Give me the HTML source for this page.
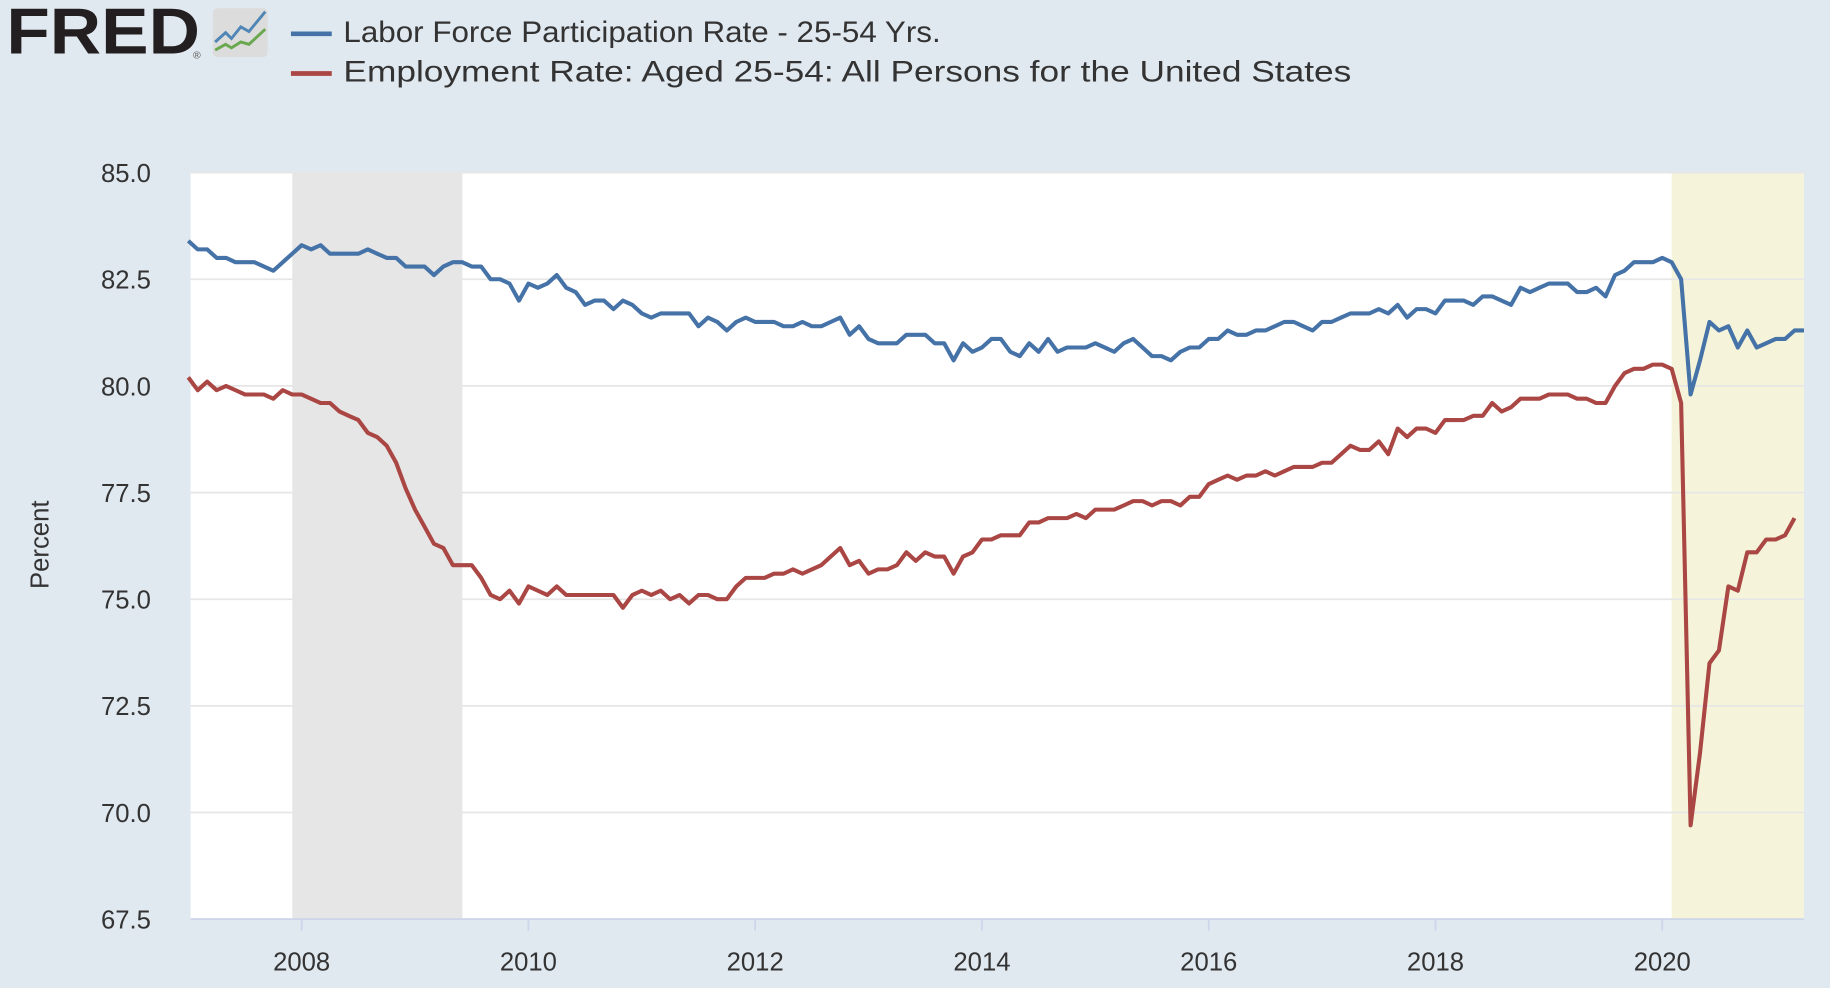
<!DOCTYPE html>
<html><head><meta charset="utf-8">
<style>
html,body{margin:0;padding:0;background:#e1e9f0;}
svg{display:block;}
</style></head>
<body>
<svg id="chart" width="1830" height="988" viewBox="0 0 1568 847" xmlns="http://www.w3.org/2000/svg" style="font-family:'Liberation Sans',sans-serif">
<rect x="0" y="0" width="1568" height="847" fill="#e1e9f0"/>
<g>
<text x="5" y="46" font-size="56" font-weight="bold" fill="#231f20" textLength="166" lengthAdjust="spacingAndGlyphs">FRED</text>
<text x="165" y="50" font-size="9" fill="#555">®</text>
<rect x="182" y="7" width="47" height="42" rx="4" fill="#dcdcdc"/>
<polyline points="184,36 193,28 198,33 206,23 213,27 227,10" fill="none" stroke="#4f86b5" stroke-width="2.5"/>
<polyline points="184,43 193,38 198,41 206,36 213,38 227,25" fill="none" stroke="#6aa84f" stroke-width="2.5"/>
</g>
<g>
<line x1="249" y1="29" x2="284" y2="29" stroke="#4572a7" stroke-width="4"/>
<text x="294" y="36" font-size="25" fill="#333" textLength="512" lengthAdjust="spacingAndGlyphs">Labor Force Participation Rate - 25-54 Yrs.</text>
<line x1="249" y1="63" x2="284" y2="63" stroke="#aa4643" stroke-width="4"/>
<text x="294" y="70" font-size="25" fill="#333" textLength="864" lengthAdjust="spacingAndGlyphs">Employment Rate: Aged 25-54: All Persons for the United States</text>
</g>
<rect x="163" y="148" width="1383" height="640" fill="#fff"/>
<g id="shades"></g>
<g id="grid"></g>
<g id="series"></g>
<g id="axes"></g>
<text transform="translate(41,467) rotate(-90)" text-anchor="middle" font-size="22" fill="#333">Percent</text>
</svg>
<script>
const lfpr=[
83.4,83.2,83.2,83.0,83.0,82.9,82.9,82.9,82.8,82.7,82.9,83.1,
83.3,83.2,83.3,83.1,83.1,83.1,83.1,83.2,83.1,83.0,83.0,82.8,
82.8,82.8,82.6,82.8,82.9,82.9,82.8,82.8,82.5,82.5,82.4,82.0,
82.4,82.3,82.4,82.6,82.3,82.2,81.9,82.0,82.0,81.8,82.0,81.9,
81.7,81.6,81.7,81.7,81.7,81.7,81.4,81.6,81.5,81.3,81.5,81.6,
81.5,81.5,81.5,81.4,81.4,81.5,81.4,81.4,81.5,81.6,81.2,81.4,
81.1,81.0,81.0,81.0,81.2,81.2,81.2,81.0,81.0,80.6,81.0,80.8,
80.9,81.1,81.1,80.8,80.7,81.0,80.8,81.1,80.8,80.9,80.9,80.9,
81.0,80.9,80.8,81.0,81.1,80.9,80.7,80.7,80.6,80.8,80.9,80.9,
81.1,81.1,81.3,81.2,81.2,81.3,81.3,81.4,81.5,81.5,81.4,81.3,
81.5,81.5,81.6,81.7,81.7,81.7,81.8,81.7,81.9,81.6,81.8,81.8,
81.7,82.0,82.0,82.0,81.9,82.1,82.1,82.0,81.9,82.3,82.2,82.3,
82.4,82.4,82.4,82.2,82.2,82.3,82.1,82.6,82.7,82.9,82.9,82.9,
83.0,82.9,82.5,79.8,80.6,81.5,81.3,81.4,80.9,81.3,80.9,81.0,
81.1,81.1,81.3,81.3];
const empRate=[
80.2,79.9,80.1,79.9,80.0,79.9,79.8,79.8,79.8,79.7,79.9,79.8,
79.8,79.7,79.6,79.6,79.4,79.3,79.2,78.9,78.8,78.6,78.2,77.6,
77.1,76.7,76.3,76.2,75.8,75.8,75.8,75.5,75.1,75.0,75.2,74.9,
75.3,75.2,75.1,75.3,75.1,75.1,75.1,75.1,75.1,75.1,74.8,75.1,
75.2,75.1,75.2,75.0,75.1,74.9,75.1,75.1,75.0,75.0,75.3,75.5,
75.5,75.5,75.6,75.6,75.7,75.6,75.7,75.8,76.0,76.2,75.8,75.9,
75.6,75.7,75.7,75.8,76.1,75.9,76.1,76.0,76.0,75.6,76.0,76.1,
76.4,76.4,76.5,76.5,76.5,76.8,76.8,76.9,76.9,76.9,77.0,76.9,
77.1,77.1,77.1,77.2,77.3,77.3,77.2,77.3,77.3,77.2,77.4,77.4,
77.7,77.8,77.9,77.8,77.9,77.9,78.0,77.9,78.0,78.1,78.1,78.1,
78.2,78.2,78.4,78.6,78.5,78.5,78.7,78.4,79.0,78.8,79.0,79.0,
78.9,79.2,79.2,79.2,79.3,79.3,79.6,79.4,79.5,79.7,79.7,79.7,
79.8,79.8,79.8,79.7,79.7,79.6,79.6,80.0,80.3,80.4,80.4,80.5,
80.5,80.4,79.6,69.7,71.4,73.5,73.8,75.3,75.2,76.1,76.1,76.4,
76.4,76.5,76.9];
const yTicks=[67.5,70.0,72.5,75.0,77.5,80.0,82.5,85.0];
const xTicks=[2008,2010,2012,2014,2016,2018,2020];
const recessions=[[2007.917,2009.417],[2020.083,2021.25]];
const startYear=2007;

const NS="http://www.w3.org/2000/svg";
const X0=161, PXY=97.2, Y85=148, PXU=640/17.5;
function xs(t){return X0+(t-startYear)*PXY;}
function ys(v){return Y85+(85-v)*PXU;}
function mk(tag,attrs,parent){const e=document.createElementNS(NS,tag);for(const k in attrs)e.setAttribute(k,attrs[k]);parent.appendChild(e);return e;}
const shades=document.getElementById('shades'),grid=document.getElementById('grid'),series=document.getElementById('series'),axes=document.getElementById('axes');
recessions.forEach((r,i)=>{
 const x1=Math.max(163,xs(r[0])),x2=Math.min(1546,xs(r[1]));
 const el=mk('rect',{x:x1,y:148,width:x2-x1,height:640,fill:i==0?'#e6e6e6':'#f5f4da'},shades);
 
 
});
yTicks.forEach(v=>{
 const l=mk('line',{x1:163,x2:1546,y1:ys(v),y2:ys(v),stroke:'#e6e6e6','stroke-width':1.5},grid);
 
 
 const t=mk('text',{x:129,y:ys(v)+8,'text-anchor':'end','font-size':22,fill:'#333'},axes);
 t.textContent=v.toFixed(1);
 
 
});
xTicks.forEach(yr=>{
 const x=xs(yr);
 const tk=mk('line',{x1:x,x2:x,y1:788,y2:798,stroke:'#ccd6eb','stroke-width':1.5},axes);
 
 
 const t=mk('text',{x:x,y:832,'text-anchor':'middle','font-size':22,fill:'#333'},axes);
 t.textContent=yr;
 
 
});
const xa=mk('line',{x1:163,x2:1546,y1:788,y2:788,stroke:'#ccd6eb','stroke-width':1.5},axes);


function line(arr,color,name){
 const pts=arr.map((v,i)=>xs(startYear+i/12).toFixed(1)+','+ys(v).toFixed(1)).join(' ');
 const p=mk('polyline',{points:pts,fill:'none',stroke:color,'stroke-width':3.5,'stroke-linejoin':'round'},series);
 
 
}
line(lfpr,'#4572a7','lfpr-line');
line(empRate,'#aa4643','employment-rate-line');
</script>
</body></html>
